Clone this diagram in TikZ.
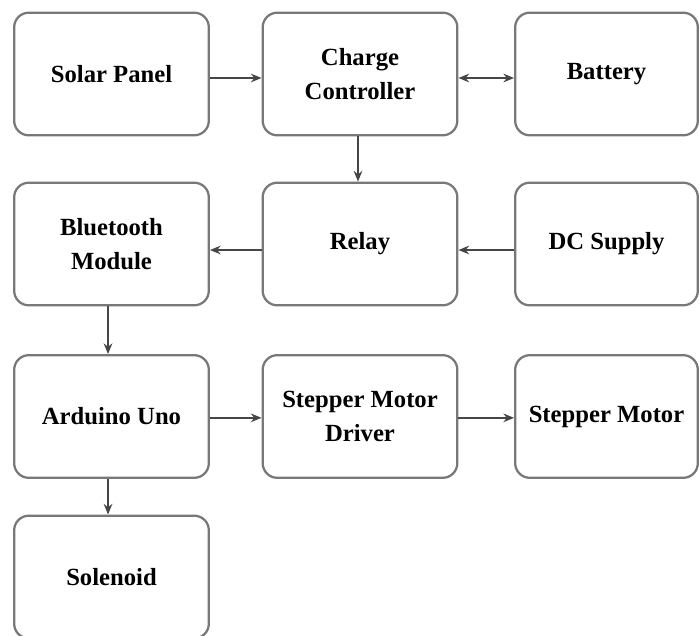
\documentclass[tikz,border=0pt]{standalone}
\usepackage{fontspec}
\setmainfont{Liberation Serif}
\usetikzlibrary{arrows.meta,positioning}

\begin{document}
\begin{tikzpicture}[x=0.75pt,y=0.75pt,yscale=-1,xscale=1,
  block/.style={draw={rgb, 255:red, 120; green, 120; blue, 120},line width=1.7,rounded corners=11pt,
    minimum width=146pt,minimum height=92pt,align=center,
    font=\fontsize{18.5}{25}\selectfont\bfseries},
  rblock/.style={block,minimum width=137pt},
  link/.style={draw={rgb, 255:red, 70; green, 70; blue, 70},line width=1.2,-{Stealth[length=8pt,width=6.5pt]}}]
\useasboundingbox (0,0) rectangle (699,635);

% Row 1
\node[block]  (solar)   at (111.5,74)  {Solar Panel};
\node[block]  (charge)  at (360,74)    {Charge\\Controller};
\node[rblock] (battery) at (606.5,74)  {Battery};
% Row 2
\node[block]  (bt)      at (111.5,244) {Bluetooth\\Module};
\node[block]  (relay)   at (360,244)   {Relay};
\node[rblock] (dc)      at (606.5,244) {DC Supply};
% Row 3
\node[block]  (uno)     at (111.5,416.5) {Arduino Uno};
\node[block]  (driver)  at (360,416.5)   {Stepper Motor\\Driver};
\node[rblock] (motor)   at (606.5,416.5) {Stepper Motor};
% Row 4
\node[block]  (sol)     at (111.5,577) {Solenoid};

% Connectors
\draw[link] ([yshift=3pt]solar.east) -- ([yshift=3pt]charge.west);
\draw[link,{Stealth[length=8pt,width=6.5pt]}-{Stealth[length=8pt,width=6.5pt]}] ([yshift=3pt]charge.east) -- ([yshift=3pt]battery.west);
\draw[link] ([xshift=-1.5pt]charge.south) -- ([xshift=-1.5pt]relay.north);
\draw[link] ([yshift=4.5pt]dc.west) -- ([yshift=4.5pt]relay.east);
\draw[link] ([yshift=4.5pt]relay.west) -- ([yshift=4.5pt]bt.east);
\draw[link] ([xshift=-2.6pt]bt.south) -- ([xshift=-2.6pt]uno.north);
\draw[link] ([yshift=1pt]uno.east) -- ([yshift=1pt]driver.west);
\draw[link] ([yshift=1pt]driver.east) -- ([yshift=1pt]motor.west);
\draw[link] ([xshift=-2.6pt]uno.south) -- ([xshift=-2.6pt]sol.north);

\end{tikzpicture}
\end{document}
